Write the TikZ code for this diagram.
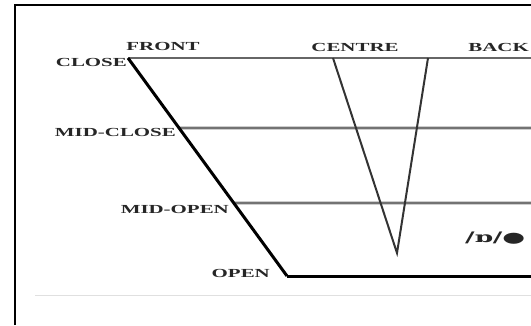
\documentclass[tikz,border=0pt]{standalone}
\usepackage{fontspec}
\usepackage{tikz}
\usetikzlibrary{positioning, calc}
\newfontfamily\lblfont[FakeStretch=1.7]{Liberation Serif}
\newfontfamily\ipafont[FakeStretch=1.8]{DejaVu Serif}

\begin{document}
\begin{tikzpicture}[
    x=1pt, y=-1pt,
    every node/.style={inner sep=0pt, text=black!85},
    lbl/.style={font=\lblfont\bfseries\fontsize{12.3}{12}\selectfont},
    levelline/.style={draw=black!55, line width=2.8pt},
    edgeline/.style={draw=black, line width=3pt},
    vline/.style={draw=black!80, line width=2pt}
]
\useasboundingbox (0,0) rectangle (531,325);
\clip (0,0) rectangle (531,325);

% frame
\draw[line width=1.6pt] (15,325) -- (15,5) -- (531,5);
\draw[black!12, line width=0.6pt] (35,295) -- (531,295);

% corners of the chart
\coordinate (cf) at (128,58);
\coordinate (of) at (287,276);
\coordinate (cb) at (531,58);
\coordinate (mcb) at (531,128);
\coordinate (mob) at (531,203);
\coordinate (ob) at (531,276);
\coordinate (mcf) at ($(cf)!0.321!(of)$);
\coordinate (mof) at ($(cf)!0.665!(of)$);
\coordinate (vl) at (333,58);
\coordinate (vr) at (428,58);
\coordinate (vb) at (397,253);

% labels
\node[lbl] (front) at (163,46) {FRONT};
\node[lbl] (centre) at (355,47) {CENTRE};
\node[lbl, anchor=east] (back) at (529,47) {BACK};
\node[lbl, anchor=east] (close) at (127,62) {CLOSE};
\node[lbl, anchor=east] (midclose) at (176,132) {MID-CLOSE};
\node[lbl, anchor=east] (midopen) at (229,209) {MID-OPEN};
\node[lbl, anchor=east] (open) at (270,273) {OPEN};
\node[anchor=west, font=\ipafont\bfseries\fontsize{14.5}{14}\selectfont] (vowel) at (465,238) {/ɒ/●};

% lines
\draw[levelline, draw=black!60] (cf) -- (cb);
\draw[levelline] (mcf) -- (mcb);
\draw[levelline] (mof) -- (mob);
\draw[edgeline] (of) -- (ob);
\draw[edgeline, line join=miter] (cf) -- (of);
\draw[vline] (vl) -- (vb) -- (vr);

\end{tikzpicture}
\end{document}
